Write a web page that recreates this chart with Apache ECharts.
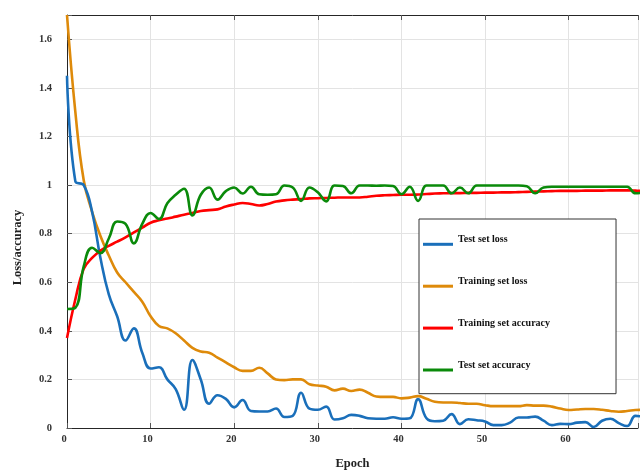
<!DOCTYPE html>
<html>
<head>
<meta charset="utf-8">
<script src="https://cdn.jsdelivr.net/npm/echarts@6/dist/echarts.min.js"></script>
<style>html,body{margin:0;padding:0;background:#fff;}#c{width:641px;height:475px;}</style>
</head>
<body>
<div id="c"></div>
<script>
const epochs = [];
for (let i = 0; i <= 69; i++) epochs.push(i);

const testLoss = [1.45,1.015,1.0,0.89,0.70,0.55,0.46,0.36,0.41,0.31,
  0.245,0.25,0.20,0.16,0.075,0.28,0.20,0.10,0.135,0.12,
  0.085,0.115,0.07,0.068,0.068,0.08,0.045,0.05,0.145,0.08,
  0.075,0.088,0.035,0.04,0.054,0.05,0.04,0.038,0.038,0.044,
  0.038,0.04,0.119,0.04,0.028,0.03,0.057,0.016,0.036,0.032,
  0.027,0.012,0.012,0.022,0.043,0.043,0.047,0.03,0.012,0.017,
  0.016,0.022,0.024,0.004,0.03,0.038,0.02,0.008,0.05,0.045];

const trainLoss = [1.70,1.30,1.02,0.89,0.79,0.71,0.64,0.60,0.56,0.52,
  0.46,0.42,0.41,0.39,0.36,0.33,0.315,0.31,0.29,0.27,
  0.25,0.235,0.235,0.248,0.225,0.20,0.197,0.20,0.20,0.18,
  0.175,0.17,0.155,0.162,0.152,0.158,0.145,0.13,0.128,0.128,
  0.122,0.125,0.131,0.12,0.108,0.105,0.105,0.103,0.10,0.10,
  0.094,0.09,0.09,0.09,0.09,0.094,0.092,0.092,0.088,0.08,
  0.074,0.076,0.078,0.078,0.075,0.07,0.067,0.07,0.074,0.075];

const trainAcc = [0.37,0.53,0.655,0.70,0.73,0.75,0.767,0.785,0.805,0.825,
  0.845,0.855,0.862,0.87,0.878,0.885,0.893,0.897,0.90,0.912,
  0.92,0.926,0.922,0.916,0.922,0.932,0.937,0.94,0.942,0.945,
  0.946,0.947,0.948,0.949,0.949,0.949,0.952,0.956,0.958,0.959,
  0.96,0.96,0.961,0.963,0.965,0.966,0.967,0.967,0.968,0.968,
  0.969,0.969,0.97,0.97,0.971,0.972,0.973,0.974,0.975,0.976,
  0.976,0.976,0.977,0.977,0.977,0.978,0.978,0.978,0.977,0.976];

const testAcc = [0.49,0.495,0.665,0.742,0.72,0.78,0.85,0.84,0.76,0.84,
  0.885,0.86,0.925,0.96,0.985,0.875,0.96,0.99,0.94,0.975,
  0.99,0.965,0.993,0.962,0.96,0.962,0.998,0.99,0.935,0.99,
  0.97,0.933,0.998,0.996,0.966,0.998,0.998,0.997,0.998,0.996,
  0.962,0.993,0.935,0.998,0.998,0.998,0.966,0.99,0.966,0.998,
  0.998,0.998,0.998,0.998,0.998,0.995,0.966,0.99,0.993,0.993,
  0.993,0.993,0.993,0.993,0.993,0.993,0.993,0.993,0.966,0.97];

const seriesNames = ['Test set loss','Training set loss','Training set accuracy','Test set accuracy'];
const seriesColors = ['#1a6fba','#de8a0a','#ff0000','#0a8a0a'];
const seriesValues = [testLoss, trainLoss, trainAcc, testAcc];

const serif = 'Liberation Serif';
const chart = echarts.init(document.getElementById('c'), null, {renderer:'canvas'});

const drawOrder = [1,0,2,3];
const series = drawOrder.map(k => ({
  name: seriesNames[k],
  type: 'line',
  data: epochs.map((e,i) => [e, seriesValues[k][i]]),
  smooth: 0.45,
  showSymbol: false,
  symbol: 'none',
  lineStyle: {width: 2.6, color: seriesColors[k]},
  itemStyle: {color: seriesColors[k]},
  clip: true
}));

chart.setOption({
  animation: false,
  backgroundColor: '#fff',
  grid: {left: 67, top: 15, right: 0, bottom: 42},
  legend: {
    data: seriesNames,
    orient: 'vertical',
    left: 419, top: 219,
    padding: [15.3, 66, 22.2, 4],
    itemGap: 30.4,
    itemWidth: 30, itemHeight: 3,
    icon: 'rect',
    backgroundColor: '#fff',
    borderColor: '#333', borderWidth: 1,
    formatter: '{t|{name}}',
    textStyle: {fontFamily: serif, fontWeight: 'bold', fontSize: 10, color: '#111',
      rich: {t: {fontFamily: serif, fontWeight: 'bold', fontSize: 10, color: '#111', padding: [0,0,10,0]}}}
  },
  xAxis: [{
    type: 'value', min: 0, max: 68.3, interval: 10,
    name: 'Epoch', nameLocation: 'middle', nameGap: 29,
    nameTextStyle: {fontFamily: serif, fontWeight: 'bold', fontSize: 12.5, color: '#222'},
    axisLine: {show: true, lineStyle: {color: '#262626', width: 1}},
    axisTick: {show: true, inside: true, length: 5, lineStyle: {color: '#555'}},
    axisLabel: {fontFamily: serif, fontWeight: 'bold', fontSize: 10.5, color: '#333', margin: 6, padding: [0,6,0,0],
      formatter: v => (Math.abs(v % 10) < 1e-6 ? String(v) : '')},
    splitLine: {show: true, lineStyle: {color: '#e3e3e3', width: 1}}
  }, {
    type: 'value', min: 0, max: 68.3, interval: 10, position: 'top',
    axisLine: {show: true, lineStyle: {color: '#262626', width: 1}},
    axisTick: {show: true, inside: true, length: 5, lineStyle: {color: '#555'}},
    axisLabel: {show: false},
    splitLine: {show: false}
  }],
  yAxis: {
    type: 'value', min: 0, max: 1.7, interval: 0.2,
    name: 'Loss/accuracy', nameLocation: 'middle', nameGap: 43,
    nameTextStyle: {fontFamily: serif, fontWeight: 'bold', fontSize: 12.5, color: '#222', padding: [0, 52, 0, 0]},
    axisLine: {show: true, lineStyle: {color: '#262626', width: 1}},
    axisTick: {show: true, inside: true, length: 5, lineStyle: {color: '#555'}},
    axisLabel: {fontFamily: serif, fontWeight: 'bold', fontSize: 10.5, color: '#333', margin: 15, padding: [0,0,11,0],
      formatter: v => {
        const r = Math.round(v / 0.2);
        if (Math.abs(v - r * 0.2) > 1e-6) return '';
        return String(parseFloat((r * 0.2).toFixed(1)));
      }},
    splitLine: {show: true, lineStyle: {color: '#e3e3e3', width: 1}}
  },
  series: series
});
</script>
</body>
</html>
